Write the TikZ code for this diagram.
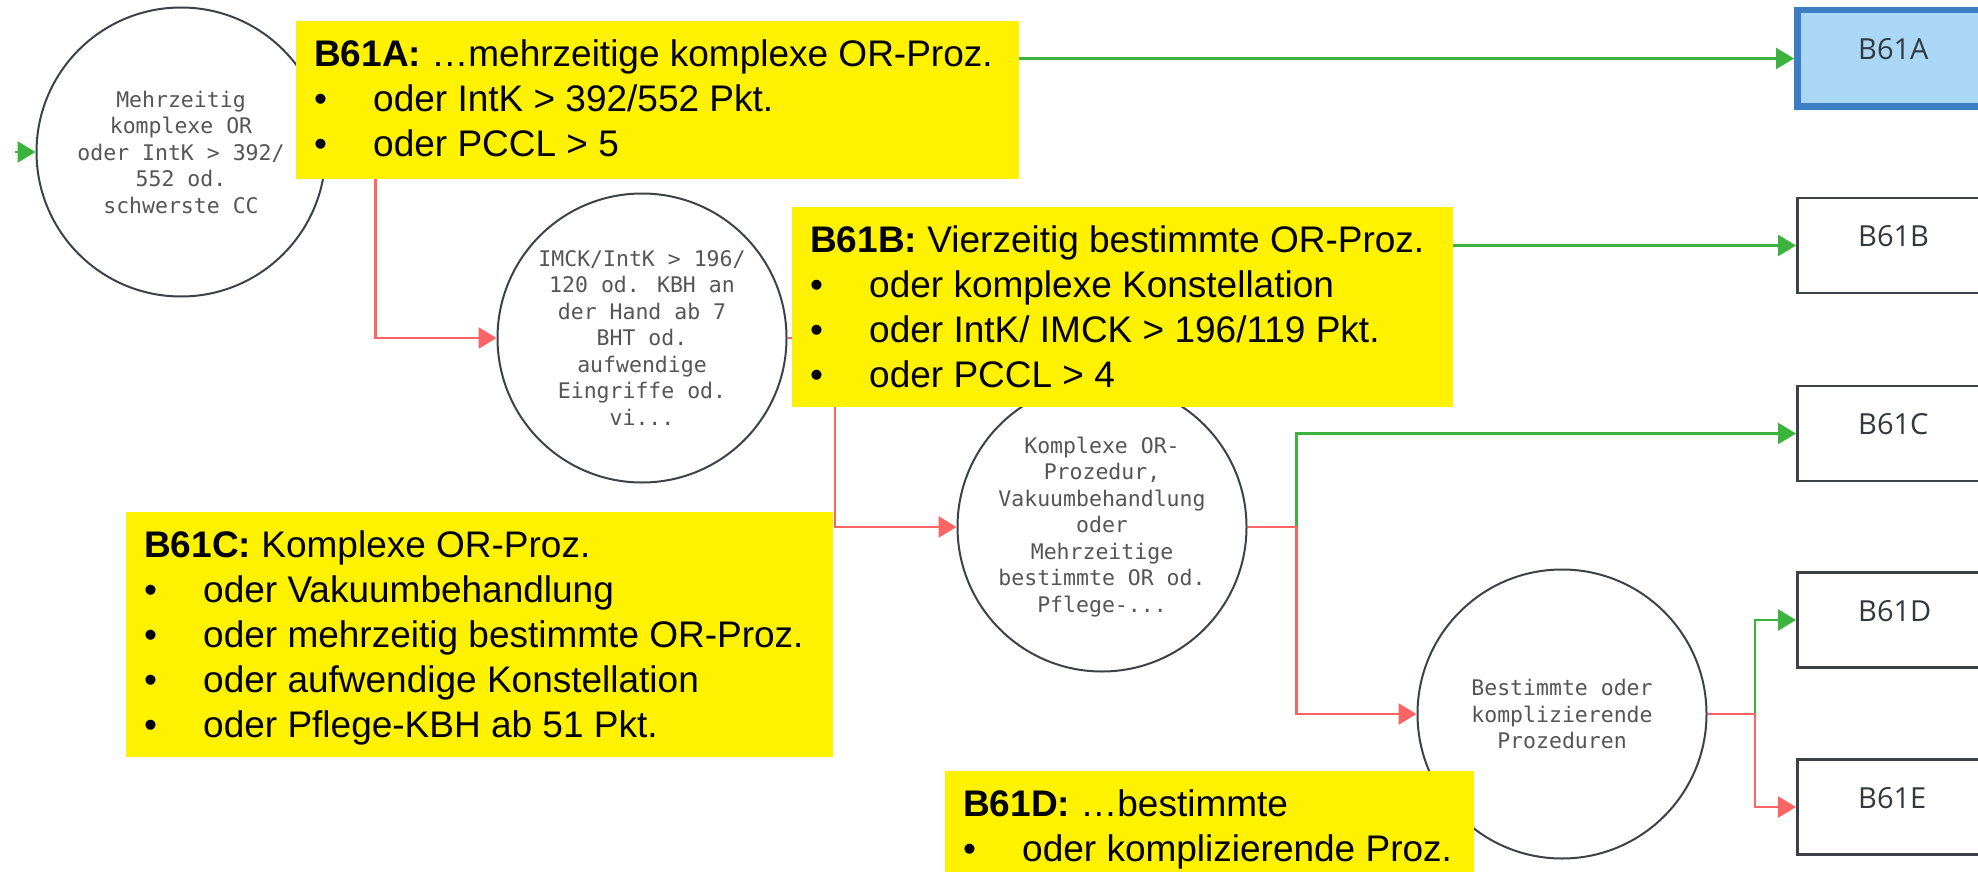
\documentclass[tikz,border=0pt]{standalone}
\usepackage{fontspec}
\setmainfont{Liberation Sans}
\newfontfamily\monof{DejaVu Sans Mono}
\newfontfamily\boxf{Open Sans}
\usetikzlibrary{arrows.meta,calc}
\definecolor{gline}{RGB}{58,180,60}
\definecolor{rline}{RGB}{255,100,100}
\definecolor{circline}{RGB}{60,66,72}
\definecolor{circtext}{RGB}{85,85,85}
\definecolor{boxline}{RGB}{60,66,72}
\definecolor{boxtext}{RGB}{50,56,62}
\definecolor{selfill}{RGB}{170,215,245}
\definecolor{selline}{RGB}{60,125,196}
\newcommand\bul{\makebox[59pt][l]{•}}
\newcommand\ytext[3]{\parbox[t][#1][t]{#2}{\vspace*{14pt}\leftskip=18pt\relax\strut #3}}
\begin{document}
\begin{tikzpicture}[x=1pt,y=-1pt,
  circ/.style={circle, draw=circline, line width=2pt, fill=white, minimum size=289pt, inner sep=0pt, align=center, text=circtext, font=\monof\fontsize{21.5}{26.5}\selectfont},
  outbox/.style={rectangle, draw=boxline, line width=2.5pt, fill=white, minimum width=320pt, minimum height=95pt, anchor=west, inner sep=0pt},
  selbox/.style={outbox, draw=selline, fill=selfill, line width=6.5pt, minimum height=96.5pt},
  boxlbl/.style={anchor=west, inner sep=0pt, text=boxtext, font=\boxf\fontsize{29}{35}\selectfont},
  ybox/.style={fill=yellow, inner sep=0pt, anchor=north west, font=\fontsize{37}{45}\selectfont},
  conn/.style={line width=2.6pt, -{Triangle[length=18pt,width=21pt]}},
  gconn/.style={conn, draw=gline},
  rconn/.style={conn, draw=rline},
]
\useasboundingbox (0,0) rectangle (1978,872);
\clip (0,0) rectangle (1978,872);

% decision circles
\node[circ] (c1) at (181,152) {Mehrzeitig\\komplexe OR\\oder IntK > 392/\\552 od.\\schwerste CC};
\node[circ] (c2) at (642,338) {IMCK/IntK > 196/\\120 od. KBH an\\der Hand ab 7\\BHT od.\\aufwendige\\Eingriffe od.\\vi...};
\node[circ] (c3) at (1102,527) {Komplexe OR-\\Prozedur,\\Vakuumbehandlung\\oder\\Mehrzeitige\\bestimmte OR od.\\Pflege-...};
\node[circ] (c4) at (1562,714) {Bestimmte oder\\komplizierende\\Prozeduren};

% result boxes
\node[selbox] (b61a) at (1794,58.5) {};
\node[outbox] (b61b) at (1796,245.5) {};
\node[outbox] (b61c) at (1796,433.5) {};
\node[outbox] (b61d) at (1796,620) {};
\node[outbox] (b61e) at (1796,807) {};
\node[boxlbl] (la) at ($(b61a.west)+(64,-9.5)$) {B61A};
\node[boxlbl] (lb) at ($(b61b.west)+(62,-9)$) {B61B};
\node[boxlbl] (lc) at ($(b61c.west)+(62,-9)$) {B61C};
\node[boxlbl] (ld) at ($(b61d.west)+(62,-9)$) {B61D};
\node[boxlbl] (le) at ($(b61e.west)+(62,-9)$) {B61E};

% connectors
\coordinate (start) at (15,152);
\draw[gconn] (start) -- (c1.west);
\draw[gconn] (c1.east) -- ++(49,0) |- (b61a.west);
\draw[rconn] (c1.east) -- ++(49,0) |- (c2.west);
\draw[gconn] (c2.east) -- ++(47.5,0) |- (b61b.west);
\draw[rconn] (c2.east) -- ++(47.5,0) |- (c3.west);
\draw[gconn] (c3.east) -- ++(49,0) |- (b61c.west);
\draw[rconn] (c3.east) -- ++(49,0) |- (c4.west);
\draw[gconn] (c4.east) -- ++(47.5,0) |- (b61d.west);
\draw[rconn] (c4.east) -- ++(47.5,0) |- (b61e.west);

% yellow annotation boxes
\node[ybox] (ya) at (296,21) {\ytext{158pt}{723pt}{\textbf{B61A:} …mehrzeitige komplexe OR-Proz.\\\bul oder IntK > 392/552 Pkt.\\\bul oder PCCL > 5}};
\node[ybox] (yb) at (792,207) {\ytext{200pt}{661pt}{\textbf{B61B:} Vierzeitig bestimmte OR-Proz.\\\bul oder komplexe Konstellation\\\bul oder IntK/ IMCK > 196/119 Pkt.\\\bul oder PCCL > 4}};
\node[ybox] (yc) at (126,512) {\ytext{245pt}{707pt}{\textbf{B61C:} Komplexe OR-Proz.\\\bul oder Vakuumbehandlung\\\bul oder mehrzeitig bestimmte OR-Proz.\\\bul oder aufwendige Konstellation\\\bul oder Pflege-KBH ab 51 Pkt.}};
\node[ybox] (yd) at (945,771) {\ytext{110pt}{529pt}{\textbf{B61D:} …bestimmte\\\bul oder komplizierende Proz.}};
\end{tikzpicture}
\end{document}
